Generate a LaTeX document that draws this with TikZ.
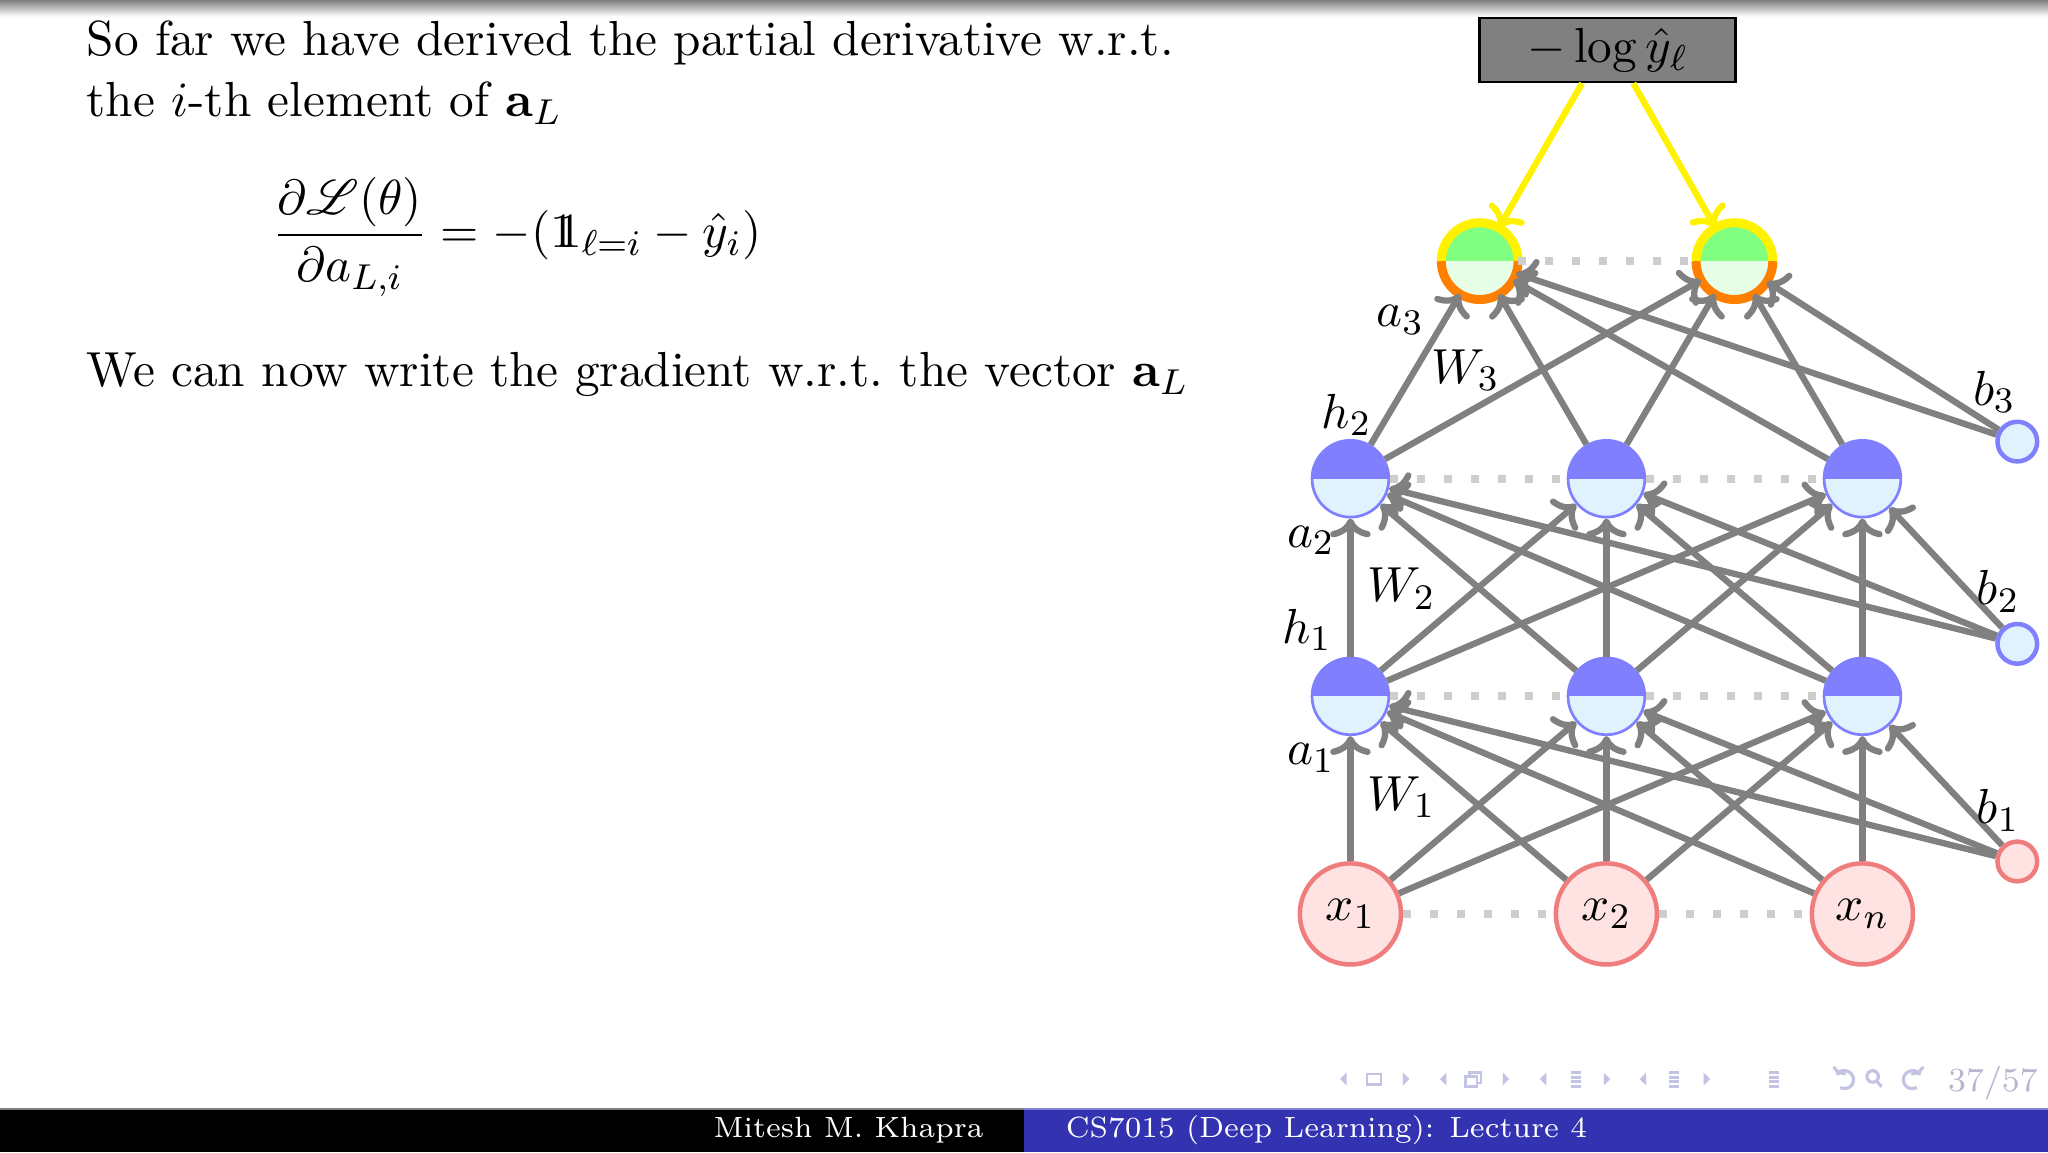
\documentclass[tikz,border=0pt,11pt]{standalone}
\usepackage{amsmath}
\usepackage{mathrsfs}
\usetikzlibrary{arrows.meta,positioning,calc}
\newcommand{\indicatrice}{\mathrm{1}\mkern-6.5mu\mathrm{1}}
\definecolor{neuroneblue}{RGB}{128,128,255}
\definecolor{neuronepale}{RGB}{224,242,253}
\definecolor{entreerouge}{RGB}{255,226,226}
\definecolor{entreebord}{RGB}{240,125,125}
\definecolor{sortievert}{RGB}{128,255,128}
\definecolor{sortiepale}{RGB}{230,255,230}
\definecolor{sortieorange}{RGB}{255,128,0}
\definecolor{poidsgray}{RGB}{128,128,128}
\definecolor{pointgray}{RGB}{205,205,205}
\definecolor{structureblue}{RGB}{51,51,178}
\definecolor{navblue}{RGB}{195,195,228}
\tikzset{neurone/.style={circle,draw=neuroneblue,line width=0.6pt,fill=neuronepale,minimum size=0.6cm,inner sep=0pt,
    path picture={\fill[neuroneblue] (path picture bounding box.west) rectangle (path picture bounding box.north east);}},
  sortie/.style={circle,fill=sortiepale,minimum size=0.6cm,inner sep=0pt,outer sep=0pt,
    path picture={\fill[sortievert] (path picture bounding box.west) rectangle (path picture bounding box.north east);}},
  entree/.style={circle,draw=entreebord,line width=1pt,fill=entreerouge,minimum size=0.79cm,inner sep=0pt},
  biais/.style={circle,draw=neuroneblue,line width=1pt,fill=neuronepale,minimum size=0.31cm,inner sep=0pt},
  biais-rouge/.style={circle,draw=entreebord,line width=1pt,fill=entreerouge,minimum size=0.31cm,inner sep=0pt},
  perte/.style={rectangle,draw=black,line width=0.6pt,fill=poidsgray,minimum width=2cm,minimum height=0.5cm,inner sep=0.5pt},
  poids/.style={draw=poidsgray,line width=1.4pt,-{Computer Modern Rightarrow[width=9pt,length=4.2pt]}},
  jaune/.style={draw=yellow,line width=1.4pt,-{Computer Modern Rightarrow[width=9pt,length=4.2pt]}},
  bord-haut/.style={draw=yellow,line width=2pt},
  bord-bas/.style={draw=sortieorange,line width=2pt},
  pointille/.style={draw=pointgray,line width=1.8pt,dash pattern=on 1.8pt off 4.2pt},
  texte/.style={anchor=base west,inner sep=0pt},
  pied/.style={text=white,inner sep=0pt,font=\fontsize{6.5}{8}\selectfont},
  nav/.style={fill=navblue}}

\begin{document}
\begin{tikzpicture}
\useasboundingbox (0,0) rectangle (16,9);
\fill[white] (0,0) rectangle (16,9);
\shade[top color=black!50,bottom color=white] (0,8.87) rectangle (16,9);

% texte
\node[texte] (ligne1) at (0.67,8.57) {So far we have derived the partial derivative w.r.t.};
\node[texte] (ligne2) at (0.67,8.09) {the $i$-th element of $\mathbf{a}_L$};
\node[anchor=west,inner sep=0pt] (eq) at (2.12,7.15) {$\displaystyle \frac{\partial \mathscr{L}(\theta)}{\partial a_{L,i}} = -(\indicatrice_{\ell=i} - \hat{y}_i)$};
\node[texte] (ligne3) at (0.67,5.98) {We can now write the gradient w.r.t.\ the vector $\mathbf{a}_L$};

% reseau
\node[entree] (x1) at (10.55,1.86) {$x_1$};
\node[entree] (x2) at (12.55,1.86) {$x_2$};
\node[entree] (xn) at (14.55,1.86) {$x_n$};
\node[biais-rouge] (b1) at (15.76,2.27) {};

\node[neurone] (h11) at (10.55,3.56) {};
\node[neurone] (h12) at (12.55,3.56) {};
\node[neurone] (h13) at (14.55,3.56) {};
\node[biais] (b2) at (15.76,3.97) {};

\node[neurone] (h21) at (10.55,5.26) {};
\node[neurone] (h22) at (12.55,5.26) {};
\node[neurone] (h23) at (14.55,5.26) {};
\node[biais] (b3) at (15.76,5.55) {};

\node[sortie] (o1) at (11.56,6.96) {};
\node[sortie] (o2) at (13.55,6.96) {};
\draw[bord-haut] (o1.west) arc[start angle=180,end angle=0,radius=0.3cm];
\draw[bord-bas] (o1.west) arc[start angle=180,end angle=360,radius=0.3cm];
\draw[bord-haut] (o2.west) arc[start angle=180,end angle=0,radius=0.3cm];
\draw[bord-bas] (o2.west) arc[start angle=180,end angle=360,radius=0.3cm];

\node[perte] (loss) at (12.56,8.61) {$-\log \hat{y}_\ell$};

\draw[pointille] (x1) -- (x2);
\draw[pointille] (x2) -- (xn);
\draw[pointille] (h11) -- (h12);
\draw[pointille] (h12) -- (h13);
\draw[pointille] (h21) -- (h22);
\draw[pointille] (h22) -- (h23);
\draw[pointille] (o1) -- (o2);

\draw[poids] (x1) edge (h11) edge (h12) edge (h13);
\draw[poids] (x2) edge (h11) edge (h12) edge (h13);
\draw[poids] (xn) edge (h11) edge (h12) edge (h13);
\draw[poids] (b1) edge (h11) edge (h12) edge (h13);

\draw[poids] (h11) edge (h21) edge (h22) edge (h23);
\draw[poids] (h12) edge (h21) edge (h22) edge (h23);
\draw[poids] (h13) edge (h21) edge (h22) edge (h23);
\draw[poids] (b2) edge (h21) edge (h22) edge (h23);

\draw[poids] (h21) edge (o1) edge (o2);
\draw[poids] (h22) edge (o1) edge (o2);
\draw[poids] (h23) edge (o1) edge (o2);
\draw[poids] (b3) edge (o1) edge (o2);

\draw[jaune] ([xshift=-0.2cm]loss.south) -- (o1);
\draw[jaune] ([xshift=0.2cm]loss.south) -- (o2);

\node (la3) at (10.94,6.50) {$a_3$};
\node (lW3) at (11.45,6.11) {$W_3$};
\node (lh2) at (10.52,5.76) {$h_2$};
\node (la2) at (10.24,4.78) {$a_2$};
\node (lW2) at (10.95,4.40) {$W_2$};
\node (lh1) at (10.21,4.08) {$h_1$};
\node (la1) at (10.24,3.08) {$a_1$};
\node (lW1) at (10.95,2.77) {$W_1$};
\node (lb3) at (15.58,5.94) {$b_3$};
\node (lb2) at (15.61,4.38) {$b_2$};
\node (lb1) at (15.61,2.67) {$b_1$};

% pied de page
\fill[black] (0,0) rectangle (8,0.337);
\fill[structureblue] (8,0) rectangle (16,0.337);
\draw[gray,line width=0.4pt] (0,0.337) -- (8,0.337);
\draw[structureblue!60,line width=0.4pt] (8,0.337) -- (16,0.337);
\node[pied,anchor=base east] (auteur) at (7.69,0.11) {Mitesh M. Khapra};
\node[pied,anchor=base west] (cours) at (8.32,0.11) {CS7015 (Deep Learning): Lecture 4};

% symboles de navigation
\fill[nav] (10.52,0.52) -- (10.47,0.57) -- (10.52,0.62) -- cycle;
\draw[navblue,line width=0.6pt] (10.68,0.53) rectangle (10.79,0.61);
\fill[nav] (10.96,0.52) -- (11.01,0.57) -- (10.96,0.62) -- cycle;
\fill[nav] (11.30,0.52) -- (11.25,0.57) -- (11.30,0.62) -- cycle;
\draw[navblue,line width=0.6pt] (11.45,0.51) rectangle (11.54,0.59) (11.48,0.59) -- (11.48,0.62) -- (11.57,0.62) -- (11.57,0.54) -- (11.54,0.54);
\fill[nav] (11.74,0.52) -- (11.79,0.57) -- (11.74,0.62) -- cycle;
\fill[nav] (12.08,0.52) -- (12.03,0.57) -- (12.08,0.62) -- cycle;
\draw[navblue,line width=0.7pt] (12.27,0.62) -- (12.35,0.62) (12.27,0.585) -- (12.35,0.585) (12.27,0.55) -- (12.35,0.55) (12.27,0.515) -- (12.35,0.515);
\fill[nav] (12.53,0.52) -- (12.58,0.57) -- (12.53,0.62) -- cycle;
\fill[nav] (12.86,0.52) -- (12.81,0.57) -- (12.86,0.62) -- cycle;
\draw[navblue,line width=0.7pt] (13.04,0.62) -- (13.12,0.62) (13.04,0.585) -- (13.12,0.585) (13.04,0.55) -- (13.12,0.55) (13.04,0.515) -- (13.12,0.515);
\fill[nav] (13.31,0.52) -- (13.36,0.57) -- (13.31,0.62) -- cycle;
\draw[navblue,line width=0.7pt] (13.82,0.62) -- (13.90,0.62) (13.82,0.585) -- (13.90,0.585) (13.82,0.55) -- (13.90,0.55) (13.82,0.515) -- (13.90,0.515);
\draw[navblue,line width=0.7pt,{To[length=1.5pt,width=3.5pt]}-] (14.35,0.60) arc[start angle=150,end angle=-120,radius=0.07cm];
\draw[navblue,line width=0.7pt] (14.63,0.59) circle[radius=0.045cm] (14.66,0.555) -- (14.70,0.51);
\draw[navblue,line width=0.7pt,{To[length=1.5pt,width=3.5pt]}-] (15.00,0.60) arc[start angle=30,end angle=300,radius=0.07cm];
\node[anchor=base,inner sep=0pt,text=navblue!80!gray,font=\fontsize{7.5}{9}\selectfont] (page) at (15.57,0.47) {37/57};
\end{tikzpicture}
\end{document}
